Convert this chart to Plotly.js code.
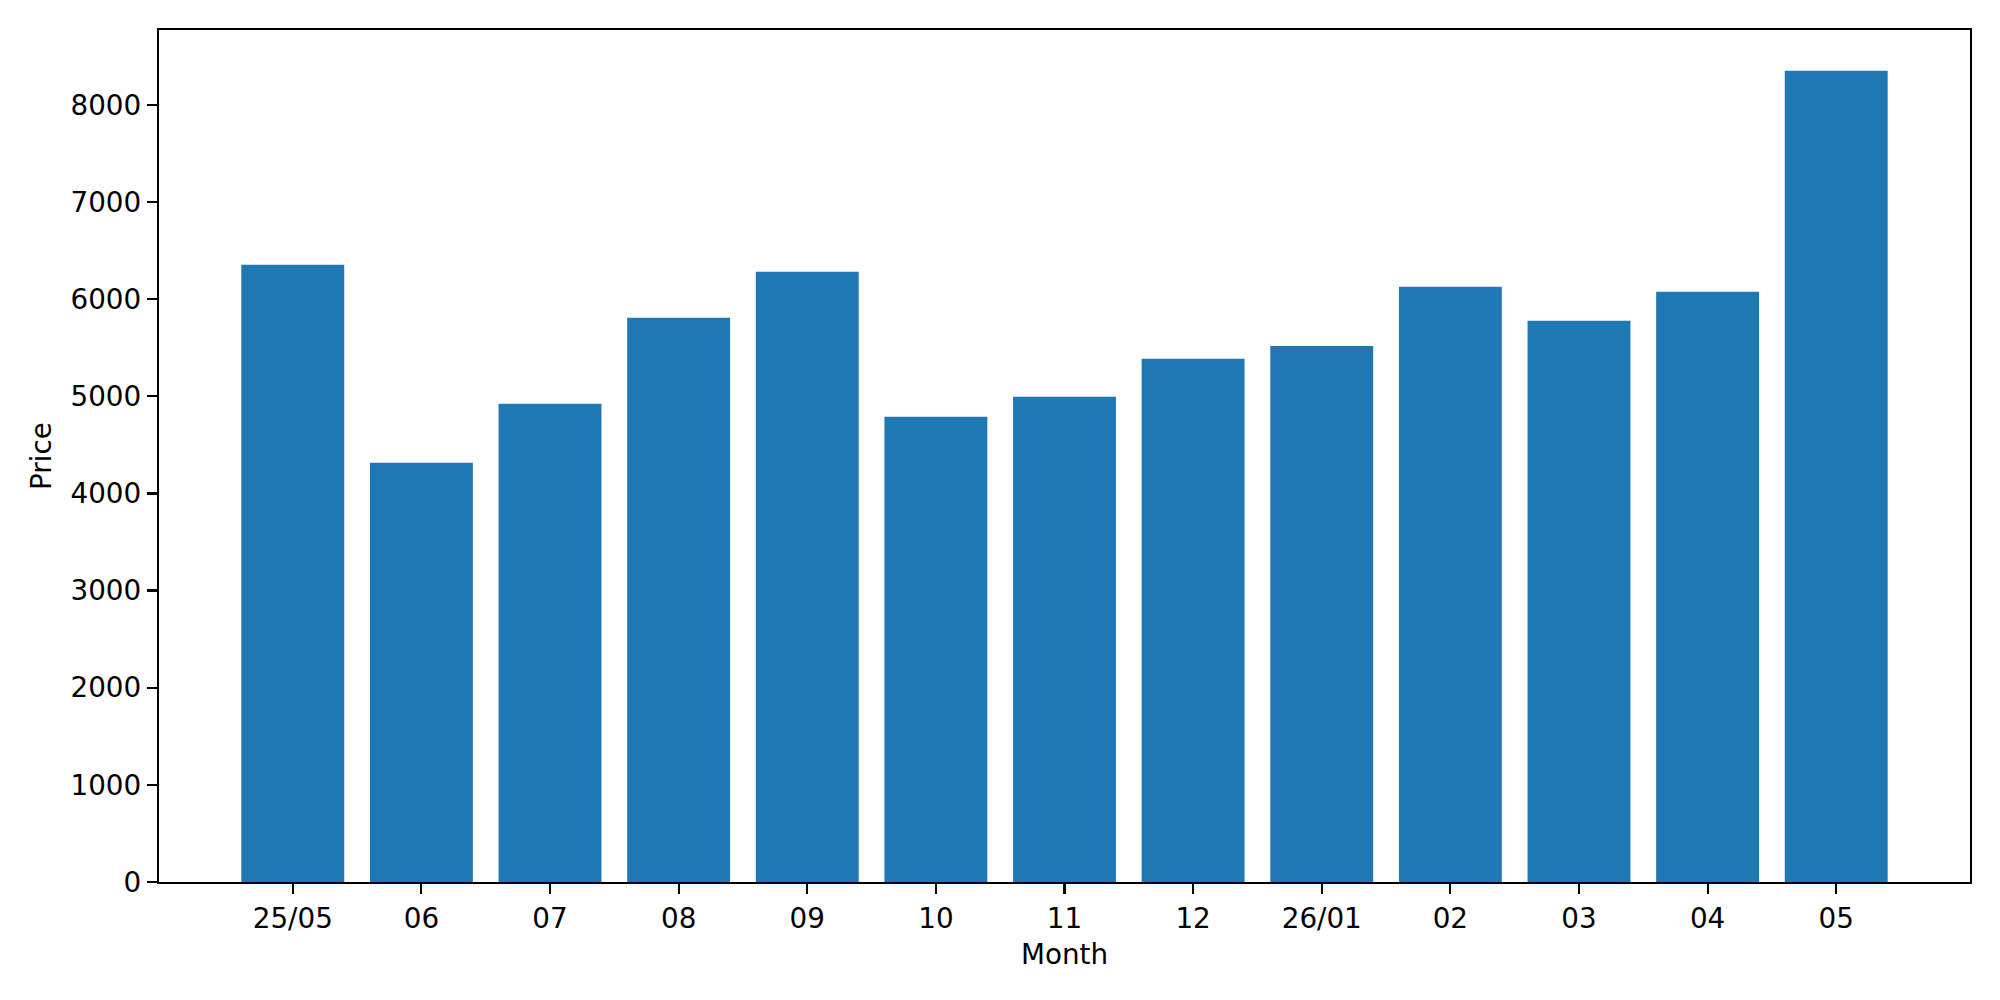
<!DOCTYPE html>
<html>
<head>
<meta charset="utf-8">
<script src="https://cdn.plot.ly/plotly-3.0.1.min.js"></script>
<style>
html, body {margin: 0; padding: 0; background: #fff;}
#chart {width: 2000px; height: 1000px;}
</style>
</head>
<body>
<div id="chart"></div>
<script>
// Monthly prices.
const months = ['25/05', '06', '07', '08', '09', '10', '11', '12', '26/01', '02', '03', '04', '05'];
const prices = [6353, 4316, 4923, 5808, 6281, 4789, 4995, 5386, 5516, 6126, 5777, 6075, 8351];

const font_size = 27.8;

let graph_data = [{
type: 'bar',
x: months.map((m, i) => i),
y: prices,
width: 0.8,
marker: {color: '#1f77b4', line: {width: 0}},
showlegend: false,
hoverinfo: 'x+y'
}];

let layout = {
width: 2000,
height: 1000,
paper_bgcolor: '#ffffff',
plot_bgcolor: '#ffffff',
font: {family: 'DejaVu Sans', size: font_size, color: '#000000'},
margin: {l: 159, r: 30, t: 30, b: 117.5, pad: 0},
showlegend: false,
xaxis: {
range: [-1.04, 13.04],
tickvals: months.map((m, i) => i),
ticktext: months,
showgrid: false,
zeroline: false,
showline: true,
mirror: true,
linecolor: '#000000',
linewidth: 2.2,
ticks: 'outside',
ticklen: 10,
tickwidth: 2.2,
tickcolor: '#000000',
tickfont: {family: 'DejaVu Sans', size: font_size},
title: {text: 'Month', standoff: 11, font: {family: 'DejaVu Sans', size: font_size}},
automargin: false,
fixedrange: true
},
yaxis: {
range: [0, 8770],
tickvals: [0, 1000, 2000, 3000, 4000, 5000, 6000, 7000, 8000],
showgrid: false,
zeroline: false,
showline: true,
mirror: true,
linecolor: '#000000',
linewidth: 2.2,
ticks: 'outside',
ticklen: 10,
tickwidth: 2.2,
tickcolor: '#000000',
tickfont: {family: 'DejaVu Sans', size: font_size},
title: {text: 'Price', standoff: 11, font: {family: 'DejaVu Sans', size: font_size}},
automargin: false,
fixedrange: true
}
};

let config = {displayModeBar: false, responsive: false, staticPlot: true};

Plotly.newPlot('chart', graph_data, layout, config);
</script>
</body>
</html>
